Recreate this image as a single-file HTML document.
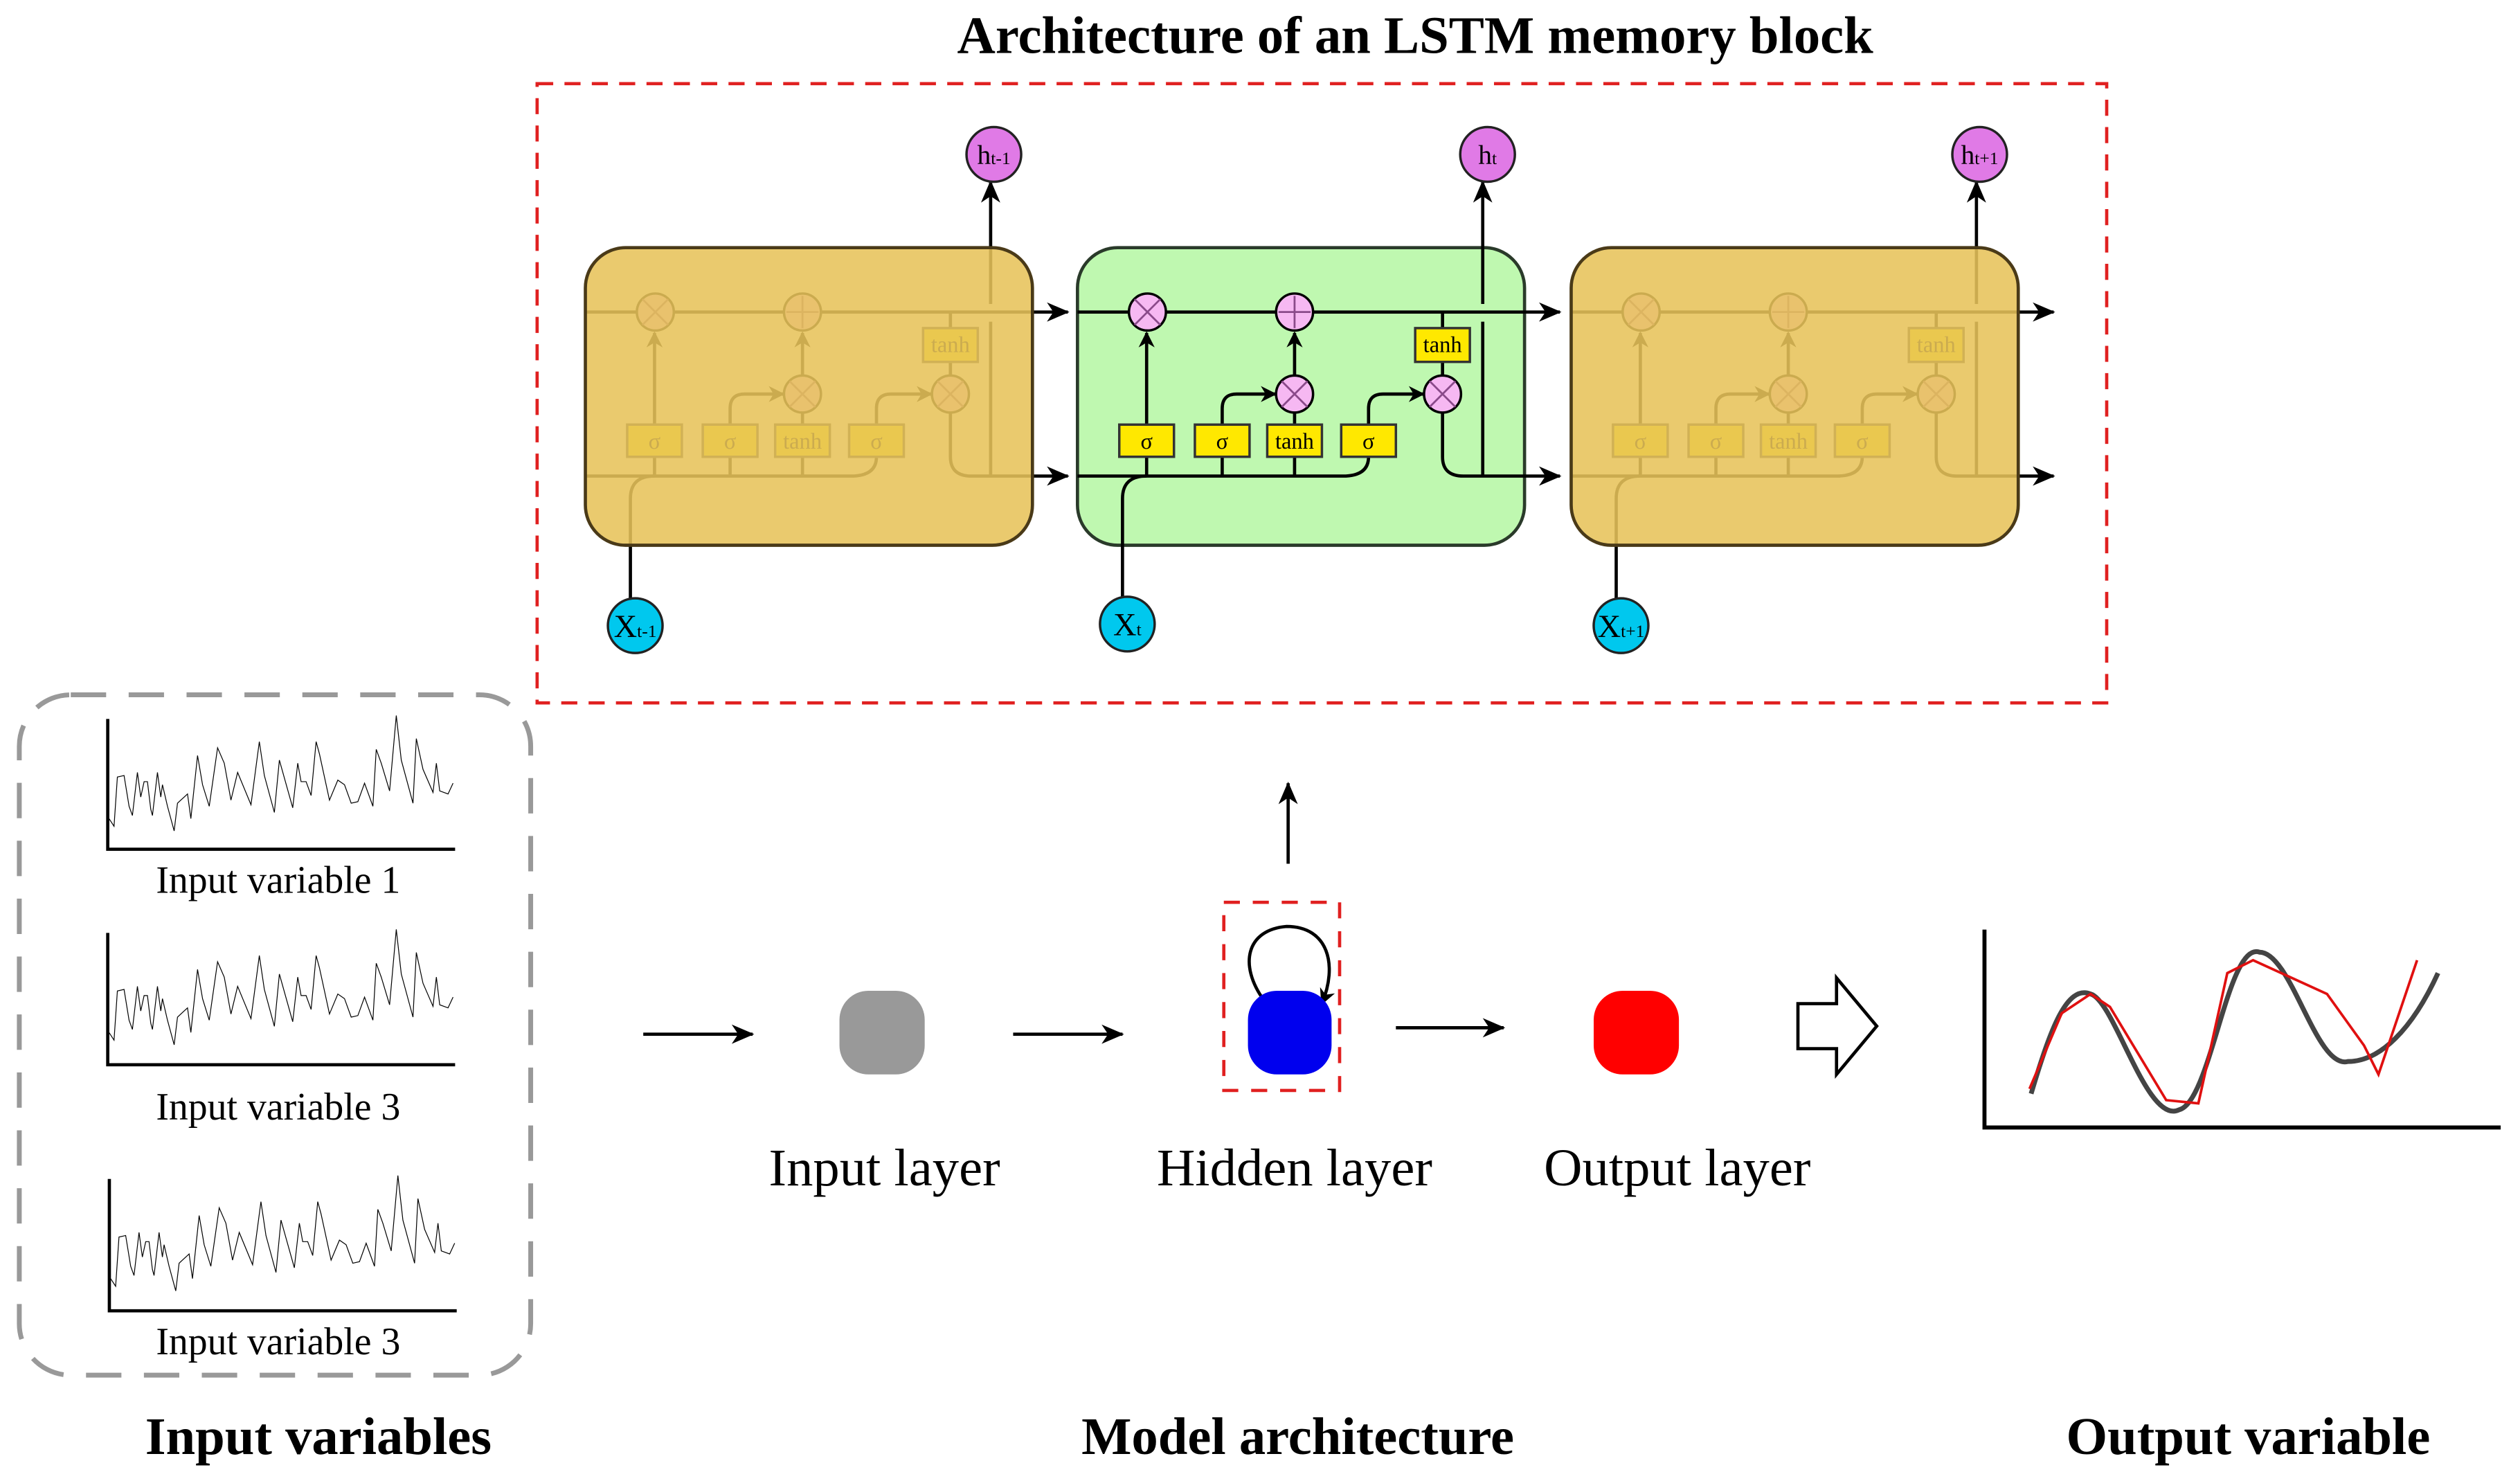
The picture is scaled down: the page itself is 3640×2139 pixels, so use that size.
<!DOCTYPE html>
<html><head><meta charset="utf-8"><style>html,body{margin:0;padding:0;background:#fff}svg{display:block}</style></head><body>
<svg xmlns="http://www.w3.org/2000/svg" width="3640" height="2139" viewBox="0 0 1567 920.8" preserveAspectRatio="none" font-family="'Liberation Serif', serif">
<defs>
<marker id="a" markerUnits="userSpaceOnUse" markerWidth="14" markerHeight="12" refX="13" refY="6" orient="auto"><path d="M0 0L14 6L0 12L4 6z" fill="#000"/></marker>
<marker id="s" markerUnits="userSpaceOnUse" markerWidth="10" markerHeight="10" refX="9" refY="5" orient="auto"><path d="M0 0L10 5L0 10L3 5z" fill="#000"/></marker>
</defs>
<rect width="1567" height="921" fill="#fff"/>
<text x="880" y="33" font-size="33" font-weight="bold" text-anchor="middle">Architecture of an LSTM memory block</text>
<rect x="334" y="52" width="976" height="385" fill="none" stroke="#e02020" stroke-width="2" stroke-dasharray="10 7"/>

<g transform="translate(364 0)">
<g fill="none" stroke="#000" stroke-width="2">
<path d="M0 194H300" marker-end="url(#a)"/>
<path d="M0 296H165Q181 296 181 284"/>
<path d="M28 372V310Q28 296 43 296"/>
<path d="M43 296V284M90 296V284M135 296V284M135 264V257M227 234V225M227 204V194"/>
<path d="M43 264V207" marker-end="url(#s)"/>
<path d="M90 264V254Q90 245 99 245H123" marker-end="url(#s)"/>
<path d="M135 234V207" marker-end="url(#s)"/>
<path d="M181 264V254Q181 245 190 245H215" marker-end="url(#s)"/>
<path d="M227 257V284Q227 296 240 296H300" marker-end="url(#a)"/>
<path d="M252 296V200M252 189V113" marker-end="url(#a)"/>
</g>
<g fill="#f6b8f2" stroke="#000" stroke-width="1.5"><circle cx="43.5" cy="194" r="11.5"/><circle cx="135" cy="194" r="11.5"/><circle cx="135" cy="245" r="11.5"/><circle cx="227" cy="245" r="11.5"/></g>
<g stroke="#8a4a8a" stroke-width="1.2"><path d="M35.5 186l16 16M51.5 186l-16 16M127 237l16 16M143 237l-16 16M219 237l16 16M235 237l-16 16M135 184v20M125 194h20"/></g>
<g fill="#ffe800" stroke="#333" stroke-width="1.5"><rect x="26" y="264" width="34" height="20"/><rect x="73" y="264" width="34" height="20"/><rect x="118" y="264" width="34" height="20"/><rect x="164" y="264" width="34" height="20"/><rect x="210" y="204" width="34" height="21"/></g>
<g font-size="14" text-anchor="middle"><text x="43" y="279">σ</text><text x="90" y="279">σ</text><text x="135" y="279">tanh</text><text x="181" y="279">σ</text><text x="227" y="219">tanh</text></g>
<rect x="0" y="154" width="278" height="185" rx="25" fill="#e7c35a" fill-opacity="0.88" stroke="#4a3a18" stroke-width="2"/>
</g>

<rect x="670" y="154" width="278" height="185" rx="25" fill="#bff8b0" stroke="#2a3a2a" stroke-width="2"/>
<g transform="translate(670 0)">
<g fill="none" stroke="#000" stroke-width="2">
<path d="M0 194H300" marker-end="url(#a)"/>
<path d="M0 296H165Q181 296 181 284"/>
<path d="M28 372V310Q28 296 43 296"/>
<path d="M43 296V284M90 296V284M135 296V284M135 264V257M227 234V225M227 204V194"/>
<path d="M43 264V207" marker-end="url(#s)"/>
<path d="M90 264V254Q90 245 99 245H123" marker-end="url(#s)"/>
<path d="M135 234V207" marker-end="url(#s)"/>
<path d="M181 264V254Q181 245 190 245H215" marker-end="url(#s)"/>
<path d="M227 257V284Q227 296 240 296H300" marker-end="url(#a)"/>
<path d="M252 296V200M252 189V113" marker-end="url(#a)"/>
</g>
<g fill="#f6b8f2" stroke="#000" stroke-width="1.5"><circle cx="43.5" cy="194" r="11.5"/><circle cx="135" cy="194" r="11.5"/><circle cx="135" cy="245" r="11.5"/><circle cx="227" cy="245" r="11.5"/></g>
<g stroke="#8a4a8a" stroke-width="1.2"><path d="M35.5 186l16 16M51.5 186l-16 16M127 237l16 16M143 237l-16 16M219 237l16 16M235 237l-16 16M135 184v20M125 194h20"/></g>
<g fill="#ffe800" stroke="#333" stroke-width="1.5"><rect x="26" y="264" width="34" height="20"/><rect x="73" y="264" width="34" height="20"/><rect x="118" y="264" width="34" height="20"/><rect x="164" y="264" width="34" height="20"/><rect x="210" y="204" width="34" height="21"/></g>
<g font-size="14" text-anchor="middle"><text x="43" y="279">σ</text><text x="90" y="279">σ</text><text x="135" y="279">tanh</text><text x="181" y="279">σ</text><text x="227" y="219">tanh</text></g>
</g>

<g transform="translate(977 0)">
<g fill="none" stroke="#000" stroke-width="2">
<path d="M0 194H300" marker-end="url(#a)"/>
<path d="M0 296H165Q181 296 181 284"/>
<path d="M28 372V310Q28 296 43 296"/>
<path d="M43 296V284M90 296V284M135 296V284M135 264V257M227 234V225M227 204V194"/>
<path d="M43 264V207" marker-end="url(#s)"/>
<path d="M90 264V254Q90 245 99 245H123" marker-end="url(#s)"/>
<path d="M135 234V207" marker-end="url(#s)"/>
<path d="M181 264V254Q181 245 190 245H215" marker-end="url(#s)"/>
<path d="M227 257V284Q227 296 240 296H300" marker-end="url(#a)"/>
<path d="M252 296V200M252 189V113" marker-end="url(#a)"/>
</g>
<g fill="#f6b8f2" stroke="#000" stroke-width="1.5"><circle cx="43.5" cy="194" r="11.5"/><circle cx="135" cy="194" r="11.5"/><circle cx="135" cy="245" r="11.5"/><circle cx="227" cy="245" r="11.5"/></g>
<g stroke="#8a4a8a" stroke-width="1.2"><path d="M35.5 186l16 16M51.5 186l-16 16M127 237l16 16M143 237l-16 16M219 237l16 16M235 237l-16 16M135 184v20M125 194h20"/></g>
<g fill="#ffe800" stroke="#333" stroke-width="1.5"><rect x="26" y="264" width="34" height="20"/><rect x="73" y="264" width="34" height="20"/><rect x="118" y="264" width="34" height="20"/><rect x="164" y="264" width="34" height="20"/><rect x="210" y="204" width="34" height="21"/></g>
<g font-size="14" text-anchor="middle"><text x="43" y="279">σ</text><text x="90" y="279">σ</text><text x="135" y="279">tanh</text><text x="181" y="279">σ</text><text x="227" y="219">tanh</text></g>
<rect x="0" y="154" width="278" height="185" rx="25" fill="#e7c35a" fill-opacity="0.88" stroke="#4a3a18" stroke-width="2"/>
</g>

<g fill="#e07ae6" stroke="#222" stroke-width="1.5"><circle cx="618" cy="96" r="17"/><circle cx="925" cy="96" r="17"/><circle cx="1231" cy="96" r="17"/></g>
<g fill="#00c8ee" stroke="#222" stroke-width="1.5"><circle cx="395" cy="389" r="17"/><circle cx="701" cy="388" r="17"/><circle cx="1008" cy="389" r="17"/></g>
<g font-size="17" text-anchor="middle">
<text x="618" y="102">h<tspan font-size="11">t-1</tspan></text>
<text x="925" y="102">h<tspan font-size="11">t</tspan></text>
<text x="1231" y="102">h<tspan font-size="11">t+1</tspan></text>
<text x="395" y="396" font-size="20">X<tspan font-size="11">t-1</tspan></text>
<text x="701" y="395" font-size="20">X<tspan font-size="11">t</tspan></text>
<text x="1008" y="396" font-size="20">X<tspan font-size="11">t+1</tspan></text>
</g>

<rect x="12" y="432" width="318" height="423" rx="32" fill="none" stroke="#999" stroke-width="3" stroke-dasharray="22 14"/>
<g fill="none" stroke="#000">
<path d="M67 447V528H283M67 580V662H283M68 733V815H284" stroke-width="2"/>
<g transform="translate(8.6 428.6) scale(0.2077 0.1913)">
<path vector-effect="non-scaling-stroke" stroke-width="1.2" d="M285 420L300 445L310 285L330 280L345 380L355 410L370 270L380 350L390 300L400 300L410 390L415 410L430 270L440 350L445 310L460 380L480 460L490 370L500 360L510 350L520 340L530 420L550 215L565 310L585 380L610 190L630 240L650 360L670 270L710 375L735 170L750 280L780 400L795 230L835 385L850 240L860 300L875 300L890 345L905 170L915 210L945 360L970 295L990 310L1010 370L1030 365L1050 305L1075 380L1085 195L1100 240L1125 330L1145 85L1160 230L1195 370L1205 160L1225 260L1255 335L1265 240L1275 330L1300 340L1315 305"/>
</g>
<g transform="translate(8.6 561.6) scale(0.2077 0.1913)">
<path vector-effect="non-scaling-stroke" stroke-width="1.2" d="M285 420L300 445L310 285L330 280L345 380L355 410L370 270L380 350L390 300L400 300L410 390L415 410L430 270L440 350L445 310L460 380L480 460L490 370L500 360L510 350L520 340L530 420L550 215L565 310L585 380L610 190L630 240L650 360L670 270L710 375L735 170L750 280L780 400L795 230L835 385L850 240L860 300L875 300L890 345L905 170L915 210L945 360L970 295L990 310L1010 370L1030 365L1050 305L1075 380L1085 195L1100 240L1125 330L1145 85L1160 230L1195 370L1205 160L1225 260L1255 335L1265 240L1275 330L1300 340L1315 305"/>
</g>
<g transform="translate(9.6 714.6) scale(0.2077 0.1913)">
<path vector-effect="non-scaling-stroke" stroke-width="1.2" d="M285 420L300 445L310 285L330 280L345 380L355 410L370 270L380 350L390 300L400 300L410 390L415 410L430 270L440 350L445 310L460 380L480 460L490 370L500 360L510 350L520 340L530 420L550 215L565 310L585 380L610 190L630 240L650 360L670 270L710 375L735 170L750 280L780 400L795 230L835 385L850 240L860 300L875 300L890 345L905 170L915 210L945 360L970 295L990 310L1010 370L1030 365L1050 305L1075 380L1085 195L1100 240L1125 330L1145 85L1160 230L1195 370L1205 160L1225 260L1255 335L1265 240L1275 330L1300 340L1315 305"/>
</g>
</g>
<g font-size="24" text-anchor="middle"><text x="173" y="555">Input variable 1</text><text x="173" y="696">Input variable 3</text><text x="173" y="842">Input variable 3</text></g>

<g stroke="#000" stroke-width="2" fill="none">
<path d="M400 643H468" marker-end="url(#a)"/>
<path d="M630 643H698" marker-end="url(#a)"/>
<path d="M868 639H935" marker-end="url(#a)"/>
<path d="M801 537V487" marker-end="url(#a)"/>
<path d="M786 622C770 600 775 578 800 576C826 576 832 600 822 624" marker-end="url(#s)"/>
</g>
<rect x="761" y="561" width="72" height="117" fill="none" stroke="#e02020" stroke-width="2" stroke-dasharray="10 8"/>
<rect x="522" y="616" width="53" height="52" rx="18" fill="#999"/>
<rect x="776" y="616" width="52" height="52" rx="18" fill="#0000ee"/>
<rect x="991" y="616" width="53" height="52" rx="18" fill="#ff0000"/>
<path d="M1118 624H1142V608L1167 638L1142 668V652H1118Z" fill="#fff" stroke="#000" stroke-width="2"/>
<g font-size="33" text-anchor="middle"><text x="550" y="737">Input layer</text><text x="805" y="737">Hidden layer</text><text x="1043" y="737">Output layer</text></g>

<path d="M1234 578V701H1555" fill="none" stroke="#000" stroke-width="2.5"/>
<path d="M1263 680C1275 640 1285 612 1300 618C1315 622 1335 700 1355 690C1375 685 1385 585 1405 592C1425 592 1440 665 1460 660C1480 660 1500 640 1516 605" fill="none" stroke="#444" stroke-width="3"/>
<path d="M1262 677L1282 630L1300 618L1312 626L1347 684L1367 686L1385 605L1401 597L1447 618L1470 650L1479 668L1503 597" fill="none" stroke="#e01010" stroke-width="1.6"/>

<g font-size="33" font-weight="bold" text-anchor="middle"><text x="198" y="904">Input variables</text><text x="807" y="904">Model architecture</text><text x="1398" y="904">Output variable</text></g>
</svg>
</body></html>
